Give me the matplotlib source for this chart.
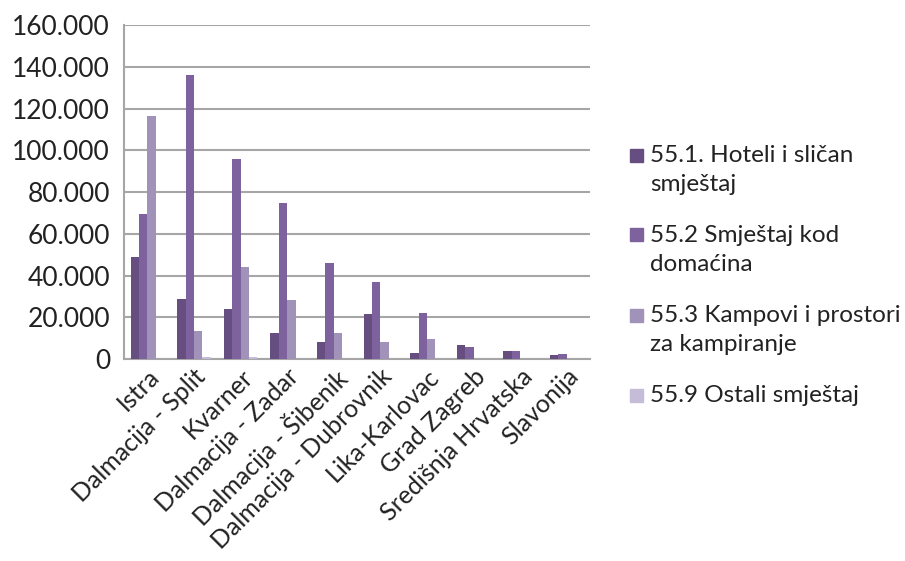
import numpy as np
import matplotlib.pyplot as plt
from matplotlib.patches import Rectangle
from matplotlib.ticker import FuncFormatter

plt.rcParams['font.family'] = ['Lato', 'DejaVu Sans']

regije = ['Istra', 'Dalmacija - Split', 'Kvarner', 'Dalmacija - Zadar',
          'Dalmacija - Šibenik', 'Dalmacija - Dubrovnik', 'Lika-Karlovac',
          'Grad Zagreb', 'Središnja Hrvatska', 'Slavonija']
hoteli = [49000, 28700, 24000, 12300, 8000, 21400, 3000, 6700, 3700, 1800]
domacini = [69300, 136000, 95700, 74700, 45800, 36700, 21900, 5900, 3700, 2400]
kampovi = [116400, 13400, 44000, 28300, 12300, 8000, 9700, 0, 0, 0]
ostali = [0, 800, 1100, 0, 0, 0, 0, 0, 0, 0]

serije = [hoteli, domacini, kampovi, ostali]
nazivi = ['55.1. Hoteli i sličan\nsmještaj', '55.2 Smještaj kod\ndomaćina',
          '55.3 Kampovi i prostori\nza kampiranje', '55.9 Ostali smještaj']
boje = ['#664f80', '#7d629e', '#a192ba', '#c5bcd7']

W, H = 905, 561
fig = plt.figure(figsize=(W / 100, H / 100), dpi=100)
ax = fig.add_axes([0.137, 0.36, 0.515, 0.595])

x = np.arange(len(regije))
w = 0.18
for i, (vals, c) in enumerate(zip(serije, boje)):
    ax.bar(x + (i - 1.5) * w, vals, w, color=c, zorder=3)

ax.set_xlim(-0.5, len(regije) - 0.5)
ax.set_ylim(0, 160000)
ax.set_yticks(np.arange(0, 160001, 20000))
ax.yaxis.set_major_formatter(FuncFormatter(lambda v, p: '0' if v == 0 else '{:,.0f}'.format(v).replace(',', '.')))
ax.grid(axis='y', color='#a6a6a6', linewidth=1.5, zorder=0)
for s in ['top', 'right']:
    ax.spines[s].set_visible(False)
for s in ['left', 'bottom']:
    ax.spines[s].set_color('#a6a6a6')
    ax.spines[s].set_linewidth(1.5)
ax.tick_params(axis='y', length=0, labelsize=19, pad=10, colors='#222222')
ax.tick_params(axis='x', length=0, labelsize=18, pad=4, colors='#222222')
ax.set_xticks(x)
ax.set_xticklabels(regije, rotation=45, ha='right', rotation_mode='anchor')

# legenda: kvadrat poravnat s prvim redom teksta
yc = 155
for naziv, c in zip(nazivi, boje):
    fig.patches.append(Rectangle((630 / W, 1 - (yc + 6.5) / H), 13 / W, 13 / H,
                                 transform=fig.transFigure, color=c))
    fig.text(650 / W, 1 - (yc - 10) / H, naziv, fontsize=17.5, color='#222222',
             va='top', ha='left', linespacing=1.45)
    yc += 30 * (naziv.count('\n') + 1) + 20

fig.savefig('out.png', dpi=100)
